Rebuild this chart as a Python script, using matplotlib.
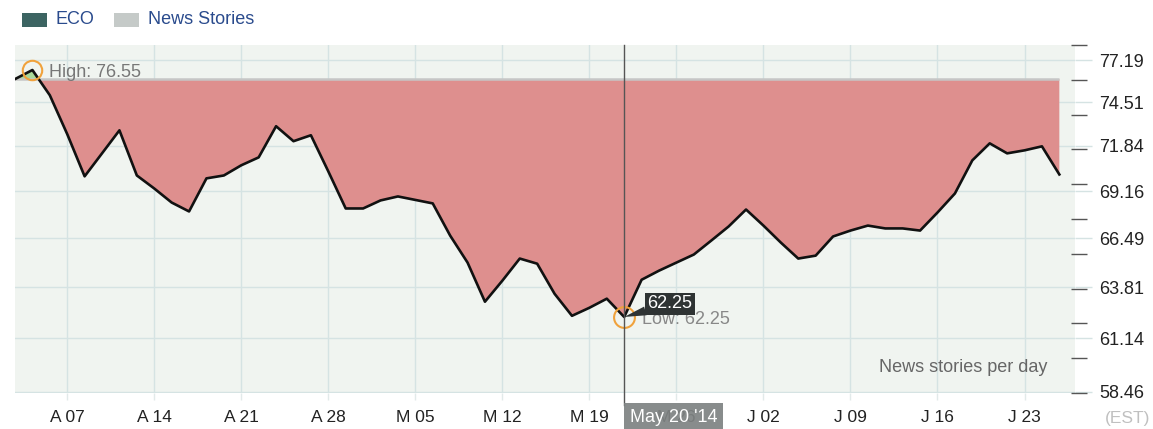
import numpy as np
import matplotlib.pyplot as plt
from matplotlib.patches import Rectangle
from matplotlib.ticker import NullLocator

plt.rcParams['font.family'] = ['Liberation Sans', 'DejaVu Sans']

# daily closes, one per weekday from Apr 01 to Jun 24 2014
eco = [75.97, 76.55, 74.95, 72.55, 70.03, 71.39, 72.78, 70.08, 69.32, 68.51,
       68.00, 69.91, 70.08, 70.68, 71.15, 73.03, 72.12, 72.48, 70.32, 68.17,
       68.17, 68.63, 68.86, 68.66, 68.46, 66.64, 65.15, 63.05, 64.17, 65.37,
       65.09, 63.47, 62.31, 62.73, 63.21, 62.25, 64.22, 64.71, 65.15, 65.59,
       66.36, 67.15, 68.11, 67.20, 66.25, 65.37, 65.53, 66.59, 66.92, 67.20,
       67.04, 67.04, 66.92, 67.94, 69.03, 70.97, 71.99, 71.39, 71.57, 71.81,
       70.14]
week_labels = ['A 07', 'A 14', 'A 21', 'A 28', 'M 05', 'M 12', 'M 19',
               'M 26', 'J 02', 'J 09', 'J 16', 'J 23']
price_ticks = [77.19, 74.51, 71.84, 69.16, 66.49, 63.81, 61.14, 58.46]
hover_date = "May 20 '14"

W, H = 1153, 429
fig = plt.figure(figsize=(W / 100, H / 100), dpi=100)
ax = fig.add_axes([15 / W, 1 - 393 / H, (1075 - 15) / W, (393 - 45) / H])
ax.set_facecolor('#f0f4f0')
for s in ax.spines.values():
    s.set_visible(False)

# news-stories scale: unlabeled dashes on the right
ax2 = ax.twinx()
ax2.set_ylim(0, 10)
ax2.set_yticks(range(11))
ax2.tick_params(axis='y', length=11.5, width=1, color='#555555',
                labelright=False, direction='out')
for s in ax2.spines.values():
    s.set_visible(False)
ax2.spines['right'].set_position(('outward', -3))

x = np.arange(len(eco))
y = np.array(eco)
base = y[0]
hi = int(np.argmax(y))
lo = int(np.argmin(y))

ax.fill_between(x, y, base, where=y <= base, interpolate=True,
                color='#de8f8e', lw=0, zorder=2)
ax.fill_between(x, y, base, where=y >= base, interpolate=True,
                color='#a9d99a', lw=0, zorder=2)
ax.hlines(base, x[0], x[-1], color='#c6c6c6', lw=1.8, zorder=3)
ax.plot(x, y, color='#111111', lw=1.9, zorder=4)

ax.set_yscale('log')
ax.set_xlim(0, 60.9)
ax.set_ylim(58.41, 78.17)
ax.set_yticks(price_ticks)
ax.set_yticklabels([f'{v:.2f}' for v in price_ticks])
ax.yaxis.set_minor_locator(NullLocator())
ax.yaxis.tick_right()
ax.set_xticks(np.arange(3, len(eco), 5))
ax.set_xticklabels(week_labels)
ax.tick_params(axis='y', left=False, labelleft=False, right=True, labelright=True,
               length=12.2, width=1, color='#d5e3e3', pad=5.5,
               labelsize=13, labelcolor='#222222')
ax.tick_params(axis='x', length=5, width=1, color='#e2eaea', pad=7,
               labelsize=12.5, labelcolor='#222222')
ax.set_axisbelow(True)
ax.grid(True, color='#d5e3e3', lw=1)

# high / low markers
ax.plot(hi, y[hi], 'o', ms=14, mfc='none', mec='#f0a23c', mew=1.5, zorder=6)
ax.annotate(f'High: {y[hi]:.2f}', xy=(hi, y[hi]), xytext=(12, -1.5),
            textcoords='offset points', va='center', color='#777777',
            fontsize=13, zorder=6)
ax.plot(lo, y[lo], 'o', ms=15, mfc='none', mec='#f0a23c', mew=1.5, zorder=6)
ax.annotate(f'Low: {y[lo]:.2f}', xy=(lo, y[lo]), xytext=(13, -2),
            textcoords='offset points', va='center', color='#888888',
            fontsize=13, zorder=6)

# crosshair and hover labels
ax.axvline(lo, ymin=-0.034, ymax=1, color='#555555', lw=1, clip_on=False, zorder=7)
ax.annotate(f'{y[lo]:.2f}', xy=(lo, y[lo]), xytext=(33, 9.4),
            textcoords='offset points', ha='center', va='center',
            color='white', fontsize=13, zorder=9,
            bbox=dict(boxstyle='square,pad=0.12', fc='#2e3333', ec='none'),
            arrowprops=dict(arrowstyle='wedge,tail_width=0.5,shrink_factor=0.5',
                            fc='#2e3333', ec='none', shrinkA=0, shrinkB=0))
ax.annotate(hover_date, xy=(lo, 0), xycoords=('data', 'axes fraction'),
            xytext=(3.9, -17.3), textcoords='offset points', ha='left',
            va='center', fontsize=13, color='white', annotation_clip=False,
            zorder=10,
            bbox=dict(boxstyle='square,pad=0.3', fc='#7f8383', ec='none', alpha=0.93))

ax.text((1047 - 15) / 1060, (393 - 368) / 348, 'News stories per day',
        transform=ax.transAxes, ha='right', va='center', color='#666666',
        fontsize=13)
fig.text(1150 / W, 1 - 418 / H, '(EST)', ha='right', va='center',
         color='#c0c0c0', fontsize=12.5)

# legend
fig.patches.append(Rectangle((22 / W, 1 - 27 / H), 25 / W, 14 / H,
                             transform=fig.transFigure, fc='#3c6462', ec='none'))
fig.text(55 / W, 1 - 20 / H, 'ECO', va='center', color='#2a4b8d', fontsize=13)
fig.patches.append(Rectangle((114 / W, 1 - 27 / H), 25 / W, 14 / H,
                             transform=fig.transFigure, fc='#c5cac8', ec='none'))
fig.text(148 / W, 1 - 20 / H, 'News Stories', va='center', color='#2a4b8d',
         fontsize=13)

fig.savefig('out.png', dpi=100)
